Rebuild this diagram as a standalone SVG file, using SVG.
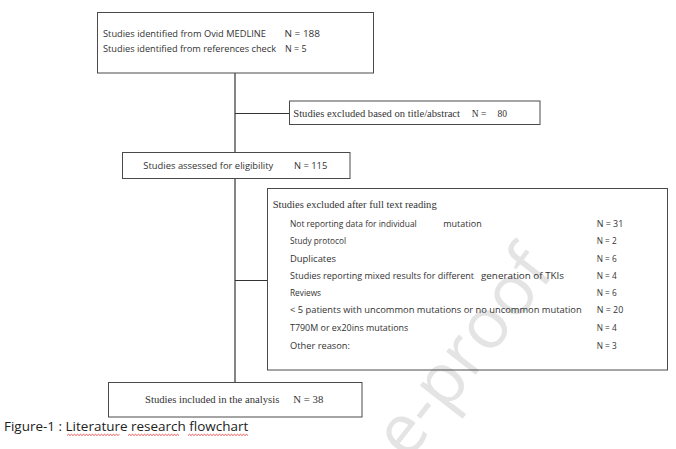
<svg xmlns="http://www.w3.org/2000/svg" width="676" height="449" viewBox="0 0 676 449">
<style>
.box{fill:none;stroke:#4a4a4a;stroke-width:1}
.ln{fill:none;stroke:#333;stroke-width:1.2}
.s{font-family:"Open Sans","Liberation Sans",sans-serif;font-size:8.5px;fill:#333}
.t{font-family:"Liberation Serif","Times New Roman",serif;font-size:9.5px;fill:#333}
.cap{font-family:"Open Sans","Liberation Sans",sans-serif;font-size:13.5px;fill:#222}
.wm{font-family:"Open Sans","Liberation Sans",sans-serif;font-size:70px;fill:#e4e4e4}
.wavy{fill:none;stroke:#e03030;stroke-width:0.8}
</style>
<rect width="676" height="449" fill="#fff"/>
<text class="wm" text-anchor="end" transform="translate(556,272) rotate(-52)">e-proof</text>
<g id="connectors">
<line class="ln" x1="235" y1="73" x2="235" y2="152.5"/>
<line class="ln" x1="235" y1="113.5" x2="289.5" y2="113.5"/>
<line class="ln" x1="235" y1="178.5" x2="235" y2="382.5"/>
<line class="ln" x1="235" y1="280.5" x2="267.5" y2="280.5"/>
</g>
<g id="identified">
<rect class="box" x="97.5" y="12.5" width="276" height="60.5"/>
<text class="s" x="103" y="37" textLength="163" lengthAdjust="spacingAndGlyphs">Studies identified from Ovid MEDLINE</text>
<text class="s" x="284.5" y="37" textLength="35.5" lengthAdjust="spacingAndGlyphs">N = 188</text>
<text class="s" x="103" y="51.5" textLength="173" lengthAdjust="spacingAndGlyphs">Studies identified from references check</text>
<text class="s" x="285" y="51.5" textLength="21.5" lengthAdjust="spacingAndGlyphs">N = 5</text>
</g>
<g id="excluded-title">
<rect class="box" x="289.5" y="101" width="250.5" height="23.5"/>
<text class="t" x="293.3" y="116.7" textLength="166.7" lengthAdjust="spacingAndGlyphs">Studies excluded based on title/abstract</text>
<text class="t" x="471.7" y="116.7">N =</text>
<text class="t" x="497.5" y="116.7">80</text>
</g>
<g id="assessed">
<rect class="box" x="122.5" y="152.5" width="227.5" height="26"/>
<text class="s" x="143.3" y="169" textLength="130" lengthAdjust="spacingAndGlyphs">Studies assessed for eligibility</text>
<text class="s" x="294" y="169" textLength="33.3" lengthAdjust="spacingAndGlyphs">N = 115</text>
</g>
<g id="excluded-fulltext">
<rect class="box" x="267.5" y="188.5" width="400" height="181.5"/>
<text class="t" x="272.7" y="208.3" textLength="164" lengthAdjust="spacingAndGlyphs">Studies excluded after full text reading</text>
<text class="s" x="290" y="226.7" textLength="126.7" lengthAdjust="spacingAndGlyphs">Not reporting data for individual</text>
<text class="s" x="443.3" y="226.7" textLength="38.4" lengthAdjust="spacingAndGlyphs">mutation</text>
<text class="s" x="596.7" y="226.7" textLength="26.6" lengthAdjust="spacingAndGlyphs">N = 31</text>
<text class="s" x="290" y="244.3" textLength="56" lengthAdjust="spacingAndGlyphs">Study protocol</text>
<text class="s" x="596.7" y="244.3" textLength="20" lengthAdjust="spacingAndGlyphs">N = 2</text>
<text class="s" x="290" y="261.7" textLength="46" lengthAdjust="spacingAndGlyphs">Duplicates</text>
<text class="s" x="596.7" y="261.7" textLength="20" lengthAdjust="spacingAndGlyphs">N = 6</text>
<text class="s" x="290" y="278.5" textLength="184" lengthAdjust="spacingAndGlyphs">Studies reporting mixed results for different</text>
<text class="s" x="481" y="278.5" textLength="83" lengthAdjust="spacingAndGlyphs">generation of TKIs</text>
<text class="s" x="596.7" y="278.5" textLength="20" lengthAdjust="spacingAndGlyphs">N = 4</text>
<text class="s" x="290" y="295.8" textLength="31" lengthAdjust="spacingAndGlyphs">Reviews</text>
<text class="s" x="596.7" y="295.8" textLength="20" lengthAdjust="spacingAndGlyphs">N = 6</text>
<text class="s" x="290" y="313.3" textLength="291.7" lengthAdjust="spacingAndGlyphs">&lt; 5 patients with uncommon mutations or no uncommon mutation</text>
<text class="s" x="596.7" y="313.3" textLength="26.6" lengthAdjust="spacingAndGlyphs">N = 20</text>
<text class="s" x="290" y="331" textLength="118.3" lengthAdjust="spacingAndGlyphs">T790M or ex20ins mutations</text>
<text class="s" x="596.7" y="331" textLength="20" lengthAdjust="spacingAndGlyphs">N = 4</text>
<text class="s" x="290" y="348.7" textLength="60" lengthAdjust="spacingAndGlyphs">Other reason:</text>
<text class="s" x="596.7" y="348.7" textLength="20" lengthAdjust="spacingAndGlyphs">N = 3</text>
</g>
<g id="included">
<rect class="box" x="108.5" y="382.5" width="253.5" height="34.5"/>
<text class="t" x="145" y="402.7" textLength="134.3" lengthAdjust="spacingAndGlyphs">Studies included in the analysis</text>
<text class="t" x="293.3" y="402.7" textLength="30" lengthAdjust="spacingAndGlyphs">N = 38</text>
</g>
<g id="caption">
<text class="cap" x="4" y="431" textLength="244.3" lengthAdjust="spacingAndGlyphs">Figure-1 : Literature research flowchart</text>
<path class="wavy" d="M67 435.5 l1.5 -1.2 l1.5 1.2 l1.5 -1.2 l1.5 1.2 l1.5 -1.2 l1.5 1.2 l1.5 -1.2 l1.5 1.2 l1.5 -1.2 l1.5 1.2 l1.5 -1.2 l1.5 1.2 l1.5 -1.2 l1.5 1.2 l1.5 -1.2 l1.5 1.2 l1.5 -1.2 l1.5 1.2 l1.5 -1.2 l1.5 1.2 l1.5 -1.2 l1.5 1.2 l1.5 -1.2 l1.5 1.2 l1.5 -1.2 l1.5 1.2 l1.5 -1.2 l1.5 1.2 l1.5 -1.2 l1.5 1.2 l1.5 -1.2 l1.5 1.2 l1.5 -1.2 l1.5 1.2 l1.5 -1.2"/>
<path class="wavy" d="M128 435.5 l1.5 -1.2 l1.5 1.2 l1.5 -1.2 l1.5 1.2 l1.5 -1.2 l1.5 1.2 l1.5 -1.2 l1.5 1.2 l1.5 -1.2 l1.5 1.2 l1.5 -1.2 l1.5 1.2 l1.5 -1.2 l1.5 1.2 l1.5 -1.2 l1.5 1.2 l1.5 -1.2 l1.5 1.2 l1.5 -1.2 l1.5 1.2 l1.5 -1.2 l1.5 1.2 l1.5 -1.2 l1.5 1.2 l1.5 -1.2 l1.5 1.2 l1.5 -1.2 l1.5 1.2 l1.5 -1.2 l1.5 1.2 l1.5 -1.2 l1.5 1.2 l1.5 -1.2 l1.5 1.2"/>
<path class="wavy" d="M188 435.5 l1.5 -1.2 l1.5 1.2 l1.5 -1.2 l1.5 1.2 l1.5 -1.2 l1.5 1.2 l1.5 -1.2 l1.5 1.2 l1.5 -1.2 l1.5 1.2 l1.5 -1.2 l1.5 1.2 l1.5 -1.2 l1.5 1.2 l1.5 -1.2 l1.5 1.2 l1.5 -1.2 l1.5 1.2 l1.5 -1.2 l1.5 1.2 l1.5 -1.2 l1.5 1.2 l1.5 -1.2 l1.5 1.2 l1.5 -1.2 l1.5 1.2 l1.5 -1.2 l1.5 1.2 l1.5 -1.2 l1.5 1.2 l1.5 -1.2 l1.5 1.2 l1.5 -1.2 l1.5 1.2 l1.5 -1.2 l1.5 1.2 l1.5 -1.2 l1.5 1.2 l1.5 -1.2 l1.5 1.2"/>
</g>
</svg>
